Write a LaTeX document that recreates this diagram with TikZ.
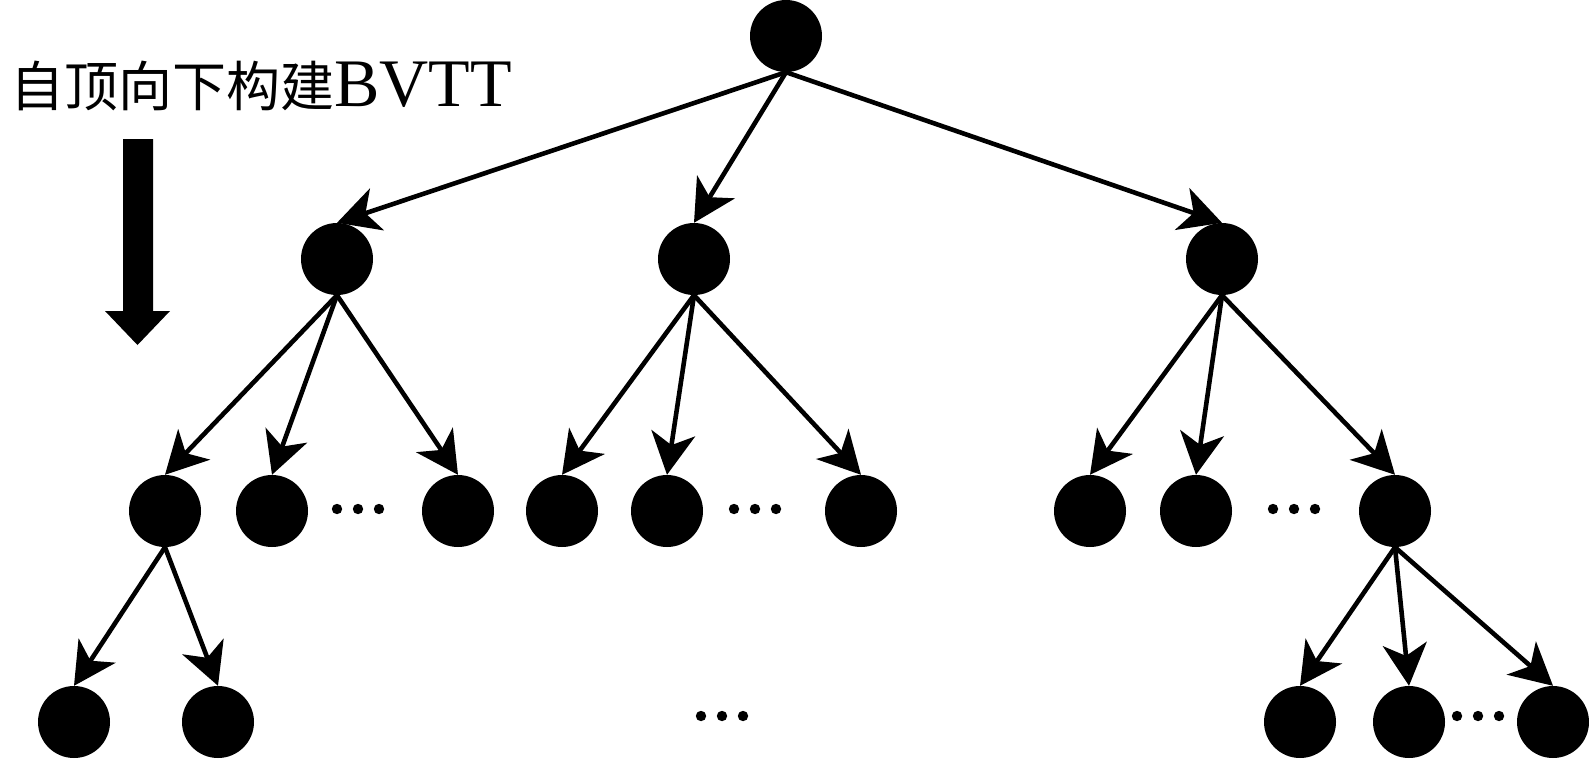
\documentclass[tikz,border=0pt]{standalone}
\usepackage{fontspec}
\setmainfont{Liberation Serif}
\newfontfamily\cjk{Noto Sans CJK SC}
\usetikzlibrary{arrows.meta}
\tikzset{
  vnode/.style={circle,fill=black,draw=none,minimum size=72pt,inner sep=0pt},
  edge/.style={line width=4.6pt,-{Stealth[length=42pt,width=44pt,inset=12pt]}},
  dotmark/.style={fill=black}
}
\begin{document}
\begin{tikzpicture}[x=1pt,y=-1pt]
\useasboundingbox (0,0) rectangle (1589,760);
% title
\node[anchor=base west,inner sep=0pt] (title) at (10,106)
  {{\cjk\fontsize{54}{60}\selectfont 自顶向下构建}{\fontsize{68}{76}\selectfont BVTT}};
% block arrow
\fill (123,139) -- (153,139) -- (153,311) -- (170,311) -- (137.5,345) -- (105,311) -- (123,311) -- cycle;
% nodes
\node[vnode] (r) at (786,36) {};
\node[vnode] (a) at (337,259) {};
\node[vnode] (b) at (694,259) {};
\node[vnode] (c) at (1222,259) {};
\node[vnode] (a1) at (165,511) {};
\node[vnode] (a2) at (272,511) {};
\node[vnode] (a3) at (458,511) {};
\node[vnode] (b1) at (562,511) {};
\node[vnode] (b2) at (667,511) {};
\node[vnode] (b3) at (861,511) {};
\node[vnode] (c1) at (1090,511) {};
\node[vnode] (c2) at (1196,511) {};
\node[vnode] (c3) at (1395,511) {};
\node[vnode] (a11) at (74,722) {};
\node[vnode] (a12) at (218,722) {};
\node[vnode] (c31) at (1300,722) {};
\node[vnode] (c32) at (1409,722) {};
\node[vnode] (c33) at (1553,722) {};
% edges
\foreach \p/\q in {r/a,r/b,r/c,a/a1,a/a2,a/a3,b/b1,b/b2,b/b3,c/c1,c/c2,c/c3,a1/a11,a1/a12,c3/c31,c3/c32,c3/c33}
  \draw[edge] (\p.south) -- (\q.north);
% ellipsis dots
\foreach \cx/\cy in {358/509,755/509,1294/509,722/716,1478/716}
  \foreach \dx in {-21,0,21}
    \fill[dotmark] (\cx+\dx,\cy) circle (5.2);
\end{tikzpicture}
\end{document}
